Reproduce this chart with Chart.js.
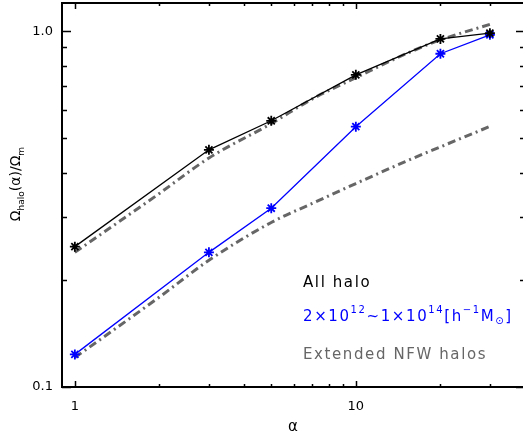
<!DOCTYPE html>
<html lang="en">
<head>
  <meta charset="UTF-8">
  <title>Omega halo vs alpha</title>
  <script src="https://cdn.jsdelivr.net/npm/chart.js@4"></script>
  <style>
    html, body { margin: 0; padding: 0; background: #fff; overflow: hidden; }
  </style>
</head>
<body>
  <canvas id="omegaChart" width="527" height="438"></canvas>
  <script>
    // measured points
    const alphaValues = [1, 3, 5, 10, 20, 30];
    const allHalo = [0.248, 0.464, 0.56, 0.754, 0.951, 0.987];
    const massBin = [0.1235, 0.239, 0.318, 0.539, 0.864, 0.977];

    // extended NFW model curves
    const nfwAlpha = [1, 2, 3, 5, 7, 10, 15, 20, 30];
    const nfwAll = [0.239, 0.35, 0.44, 0.55, 0.645, 0.74, 0.862, 0.945, 1.045];
    const nfwMass = [0.121, 0.179, 0.227, 0.29, 0.328, 0.373, 0.43, 0.473, 0.54];

    // axis ticks
    const xMajor = [1, 10];
    const xMinor = [2, 3, 4, 5, 6, 7, 8, 9, 20, 30, 40];
    const yMajor = [0.1, 1];
    const yMinor = [0.2, 0.3, 0.4, 0.5, 0.6, 0.7, 0.8, 0.9];
    const xLabels = ['1', '10'];
    const yLabels = ['0.1', '1.0'];

    const FONT = '"DejaVu Sans", sans-serif';

    function toPoints(xs, ys) {
      return xs.map((x, i) => ({ x: x, y: ys[i] }));
    }

    // no extra room for edge labels, the frame is set by hand
    function noPad(s) {
      s.paddingTop = 0; s.paddingBottom = 0;
      s.paddingLeft = 0; s.paddingRight = 0;
    }

    // draws text with sub/superscripts, returns width
    function richText(ctx, parts, x, y, size, measureOnly) {
      let cx = x;
      for (const p of parts) {
        const small = p.s === 'sup' || p.s === 'sub';
        ctx.font = (small ? Math.round(size * 0.66) : size) + 'px ' + FONT;
        let dy = 0;
        if (p.s === 'sup') dy = -size * 0.42;
        if (p.s === 'sub') dy = size * 0.3;
        if (!measureOnly) ctx.fillText(p.t, cx, y + dy);
        cx += ctx.measureText(p.t).width;
      }
      return cx - x;
    }

    const decorPlugin = {
      id: 'decor',
      afterDraw(chart) {
        const ctx = chart.ctx;
        const a = chart.chartArea;
        const xs = chart.scales.x, ys = chart.scales.y;
        ctx.save();
        ctx.strokeStyle = '#000';
        ctx.lineWidth = 2;
        // top and right frame
        ctx.beginPath();
        ctx.moveTo(a.left, a.top);
        ctx.lineTo(a.right, a.top);
        ctx.lineTo(a.right, a.bottom);
        ctx.stroke();

        // inward ticks
        ctx.lineWidth = 1.5;
        const xt = xMajor.map(v => [v, 6]).concat(xMinor.map(v => [v, 3]));
        for (const [v, len] of xt) {
          if (v < xs.min || v > xs.max) continue;
          const px = Math.round(xs.getPixelForValue(v)) + 0.5;
          ctx.beginPath();
          ctx.moveTo(px, a.bottom); ctx.lineTo(px, a.bottom - len);
          ctx.moveTo(px, a.top); ctx.lineTo(px, a.top + len);
          ctx.stroke();
        }
        const yt = yMajor.map(v => [v, 9]).concat(yMinor.map(v => [v, 5]));
        for (const [v, len] of yt) {
          const py = Math.round(ys.getPixelForValue(v)) + 0.5;
          ctx.beginPath();
          ctx.moveTo(a.left, py); ctx.lineTo(a.left + len, py);
          ctx.moveTo(a.right, py); ctx.lineTo(a.right - len, py);
          ctx.stroke();
        }

        // axis titles
        ctx.fillStyle = '#000';
        ctx.textBaseline = 'alphabetic';
        ctx.textAlign = 'left';
        ctx.font = '15px ' + FONT;
        ctx.fillText('α', 288, 431);

        const yTitle = [
          { t: 'Ω' }, { t: 'halo', s: 'sub' }, { t: '(α)/Ω' }, { t: 'm', s: 'sub' }
        ];
        ctx.save();
        ctx.translate(20, 184);
        ctx.rotate(-Math.PI / 2);
        const w = richText(ctx, yTitle, 0, 0, 14, true);
        richText(ctx, yTitle, -w / 2, 0, 14);
        ctx.restore();

        // legend text
        ctx.letterSpacing = '1.6px';
        ctx.textBaseline = 'middle';
        ctx.fillStyle = '#000';
        richText(ctx, [{ t: 'All halo' }], 303, 283, 15);
        ctx.fillStyle = '#0000ff';
        richText(ctx, [
          { t: '2×10' }, { t: '12', s: 'sup' }, { t: '~1×10' }, { t: '14', s: 'sup' },
          { t: '[h' }, { t: '−1', s: 'sup' }, { t: 'M' }, { t: '⊙', s: 'sub' }, { t: ']' }
        ], 303, 317, 15);
        ctx.fillStyle = '#666666';
        richText(ctx, [{ t: 'Extended NFW halos' }], 303, 355, 15);
        ctx.restore();
      }
    };

    new Chart(document.getElementById('omegaChart'), {
      type: 'line',
      data: {
        datasets: [
          {
            label: 'All halo',
            data: toPoints(alphaValues, allHalo),
            borderColor: '#000',
            backgroundColor: '#000',
            borderWidth: 1.3,
            pointStyle: 'star',
            pointRadius: 5,
            pointBorderWidth: 1.8,
            order: 1
          },
          {
            label: '2e12-1e14',
            data: toPoints(alphaValues, massBin),
            borderColor: '#0000ff',
            backgroundColor: '#0000ff',
            borderWidth: 1.3,
            pointStyle: 'star',
            pointRadius: 5,
            pointBorderWidth: 1.8,
            order: 2
          },
          {
            label: 'NFW all',
            data: toPoints(nfwAlpha, nfwAll),
            borderColor: '#666666',
            borderWidth: 3,
            borderDash: [8, 4, 2, 4],
            pointRadius: 0,
            cubicInterpolationMode: 'monotone',
            order: 3
          },
          {
            label: 'NFW mass bin',
            data: toPoints(nfwAlpha, nfwMass),
            borderColor: '#666666',
            borderWidth: 3,
            borderDash: [8, 4, 2, 4],
            pointRadius: 0,
            cubicInterpolationMode: 'monotone',
            order: 4
          }
        ]
      },
      options: {
        responsive: false,
        animation: false,
        layout: { autoPadding: false, padding: { top: 3, right: 2, left: 0, bottom: 0 } },
        plugins: { legend: { display: false }, tooltip: { enabled: false } },
        scales: {
          x: {
            type: 'logarithmic',
            min: 0.9,
            max: 40,
            grid: { display: false, drawTicks: false },
            border: { display: true, color: '#000', width: 2 },
            afterBuildTicks: s => { s.ticks = xMajor.map(v => ({ value: v })); },
            afterFit: s => { s.height = 51; noPad(s); },
            ticks: {
              color: '#000',
              font: { family: FONT, size: 13 },
              padding: 12,
              maxRotation: 0,
              autoSkip: false,
              callback: (v) => xLabels[xMajor.indexOf(v)]
            }
          },
          y: {
            type: 'logarithmic',
            min: 0.1,
            max: 1.2,
            grid: { display: false, drawTicks: false },
            border: { display: true, color: '#000', width: 2 },
            afterBuildTicks: s => { s.ticks = yMajor.map(v => ({ value: v })); },
            afterFit: s => { s.width = 62; noPad(s); },
            ticks: {
              color: '#000',
              font: { family: FONT, size: 13 },
              padding: 9,
              autoSkip: false,
              callback: (v) => yLabels[yMajor.indexOf(v)]
            }
          }
        }
      },
      plugins: [decorPlugin]
    });
  </script>
</body>
</html>
